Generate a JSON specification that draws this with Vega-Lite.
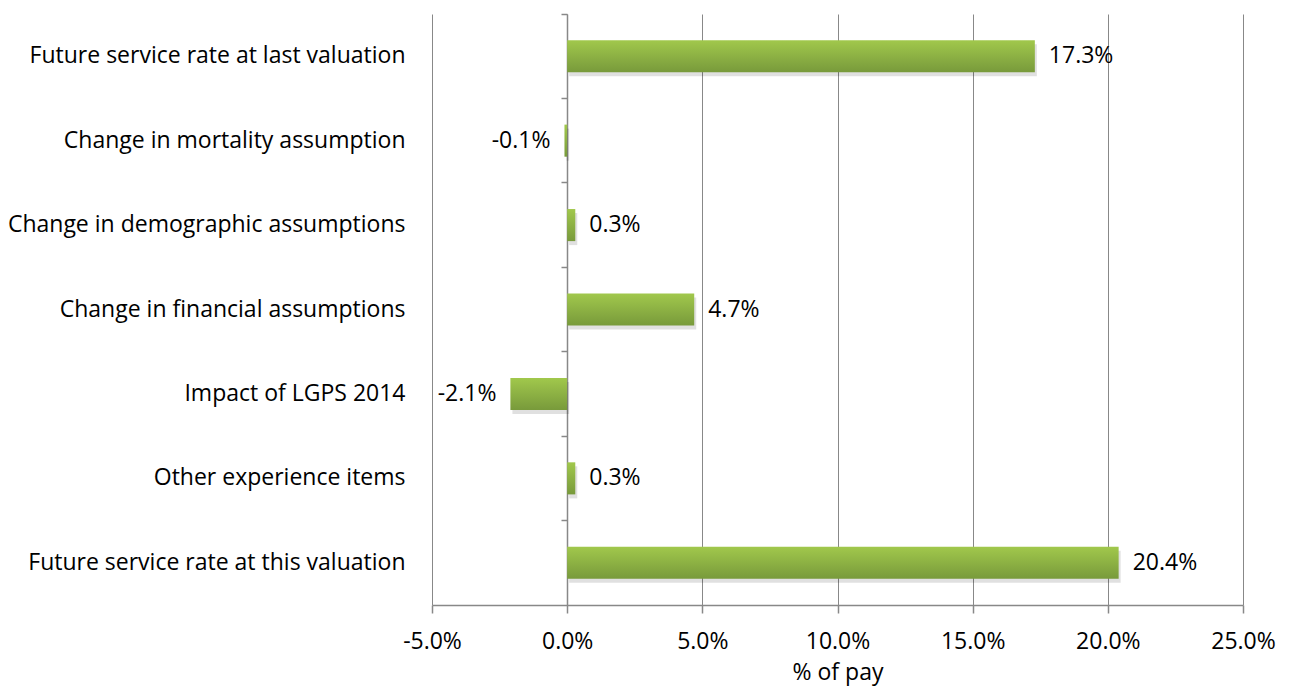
{
  "$schema": "https://vega.github.io/schema/vega-lite/v6.json",
  "autosize": {"type": "none"},
  "padding": {"left": 432, "top": 14, "right": 47, "bottom": 86},
  "width": 811,
  "height": 591,
  "background": "white",
  "config": {
    "view": {"stroke": null},
    "font": "Open Sans",
    "axis": {"labelFont": "Open Sans", "titleFont": "Open Sans"}
  },
  "data": {
    "values": [
      {"item": "Future service rate at last valuation", "v": 0.173, "label": "17.3%"},
      {"item": "Change in mortality assumption", "v": -0.001, "label": "-0.1%"},
      {"item": "Change in demographic assumptions", "v": 0.003, "label": "0.3%"},
      {"item": "Change in financial assumptions", "v": 0.047, "label": "4.7%"},
      {"item": "Impact of LGPS 2014", "v": -0.021, "label": "-2.1%"},
      {"item": "Other experience items", "v": 0.003, "label": "0.3%"},
      {"item": "Future service rate at this valuation", "v": 0.204, "label": "20.4%"}
    ]
  },
  "encoding": {
    "y": {
      "field": "item",
      "type": "nominal",
      "sort": null,
      "scale": {"paddingInner": 0, "paddingOuter": 0}
    }
  },
  "layer": [
    {
      "mark": {"type": "bar", "color": "#000000", "opacity": 0.12, "xOffset": 2, "yOffset": 4, "height": {"band": 0.38}},
      "encoding": {
        "x": {
          "field": "v",
          "type": "quantitative",
          "scale": {"domain": [-0.05, 0.25], "nice": false, "zero": false},
          "axis": {
            "values": [-0.05, 0, 0.05, 0.1, 0.15, 0.2, 0.25],
            "labelExpr": "replace(format(datum.value, '.1%'), '−', '-')",
            "labelFlush": false,
            "labelOverlap": false,
            "grid": true,
            "gridColor": "#888888",
            "gridWidth": 1,
            "gridOpacity": 1,
            "domainColor": "#888888",
            "domainWidth": 1.5,
            "tickColor": "#888888",
            "tickSize": 8,
            "tickWidth": 1.5,
            "labelFontSize": 23,
            "labelColor": "#000000",
            "labelPadding": 17,
            "title": "% of pay",
            "titleFontSize": 23,
            "titleFontWeight": "normal",
            "titleColor": "#000000",
            "titlePadding": 8
          }
        },
        "y": {
          "field": "item",
          "type": "nominal",
          "sort": null,
          "axis": {
            "title": null,
            "ticks": false,
            "domain": false,
            "labelPadding": 27,
            "labelFontSize": 23,
            "labelColor": "#000000",
            "labelLimit": 500
          }
        }
      }
    },
    {
      "mark": {
        "type": "bar",
        "height": {"band": 0.38},
        "color": {
          "gradient": "linear",
          "x1": 0, "y1": 0, "x2": 0, "y2": 1,
          "stops": [
            {"offset": 0, "color": "#a1c84c"},
            {"offset": 1, "color": "#789a3b"}
          ]
        }
      },
      "encoding": {
        "x": {"field": "v", "type": "quantitative"},
        "y": {
          "field": "item",
          "type": "nominal",
          "sort": null,
          "axis": {
            "title": null,
            "orient": "left",
            "offset": -135,
            "labels": false,
            "domain": true,
            "domainColor": "#888888",
            "domainWidth": 1.5,
            "ticks": true,
            "bandPosition": 0,
            "tickColor": "#888888",
            "tickWidth": 1.5,
            "tickSize": 6,
            "grid": false
          }
        }
      }
    },
    {
      "mark": {
        "type": "text",
        "fontSize": 23,
        "color": "#000000",
        "align": {"expr": "datum.v < 0 ? 'right' : 'left'"},
        "dx": {"expr": "datum.v < 0 ? -14 : 14"},
        "baseline": "middle"
      },
      "encoding": {
        "x": {"field": "v", "type": "quantitative"},
        "y": {"field": "item", "type": "nominal", "sort": null, "axis": null},
        "text": {"field": "label"}
      }
    }
  ],
  "resolve": {"axis": {"y": "independent"}}
}
